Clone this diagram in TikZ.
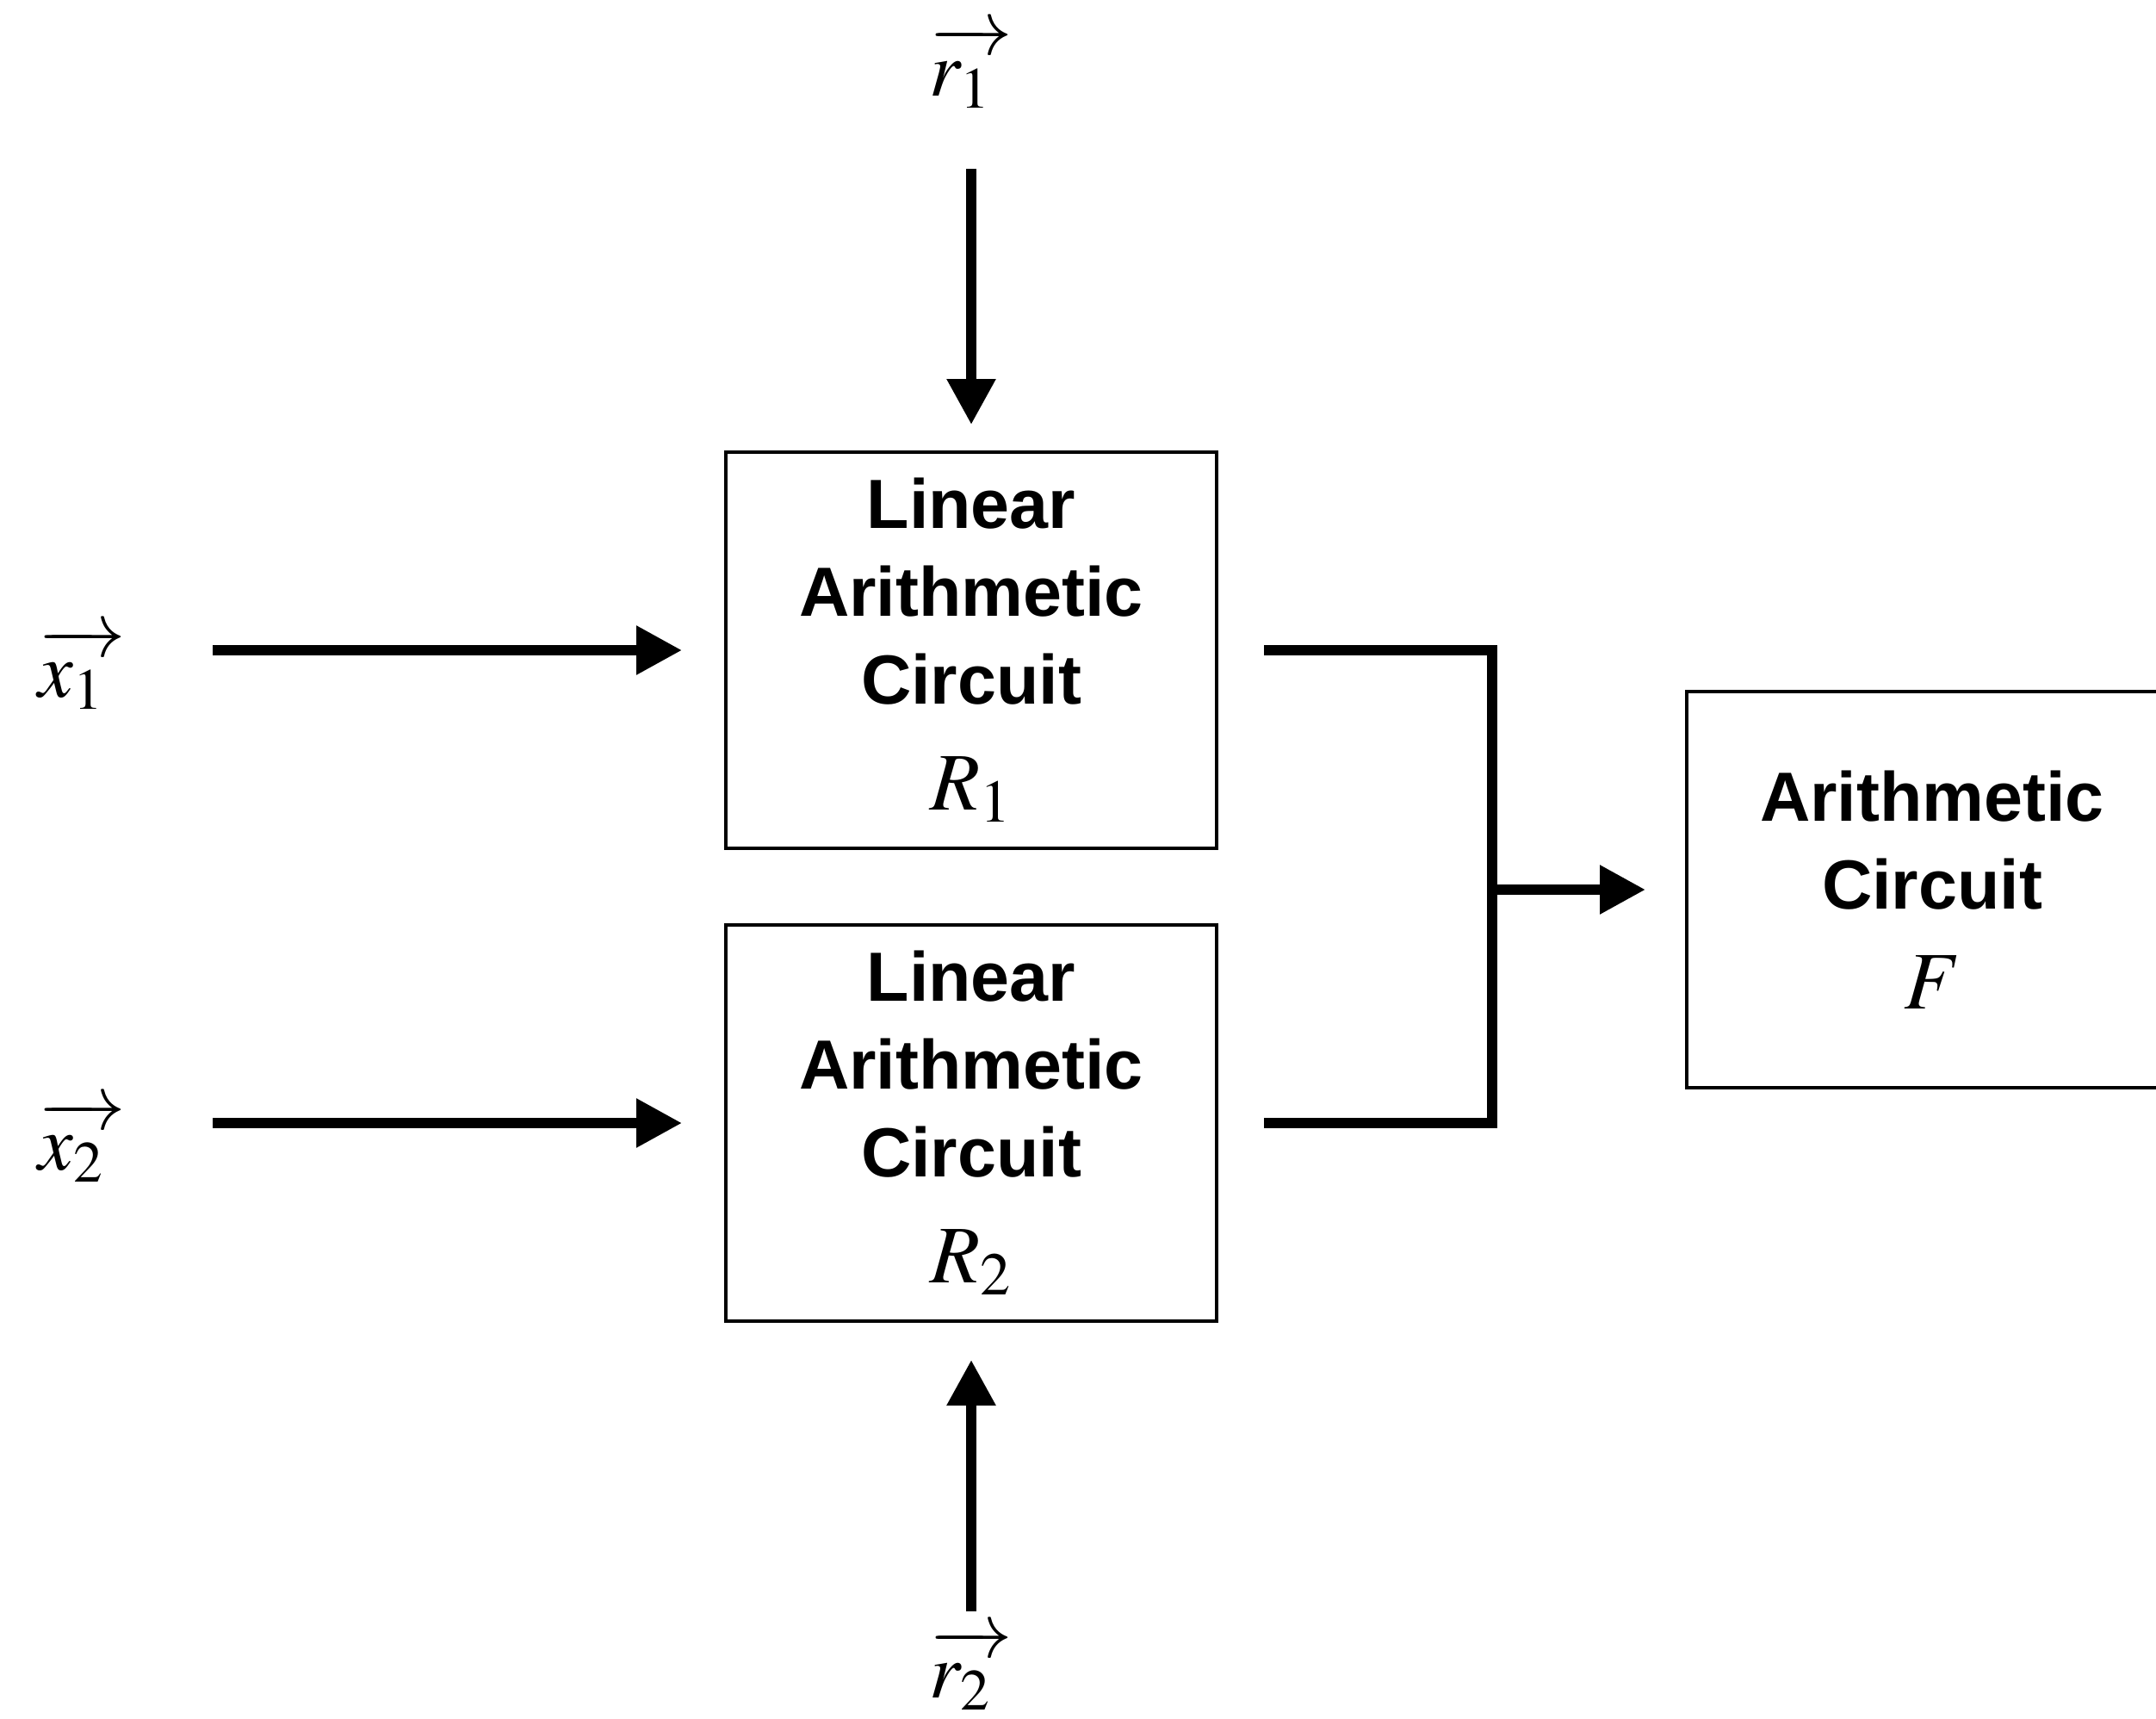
\documentclass[tikz,border=0pt]{standalone}
\usepackage{mathptmx}
\usepackage[no-math]{fontspec}
\setsansfont{Liberation Sans}
\usetikzlibrary{arrows.meta,positioning}

\newcommand{\bigmath}[1]{{\fontsize{27}{29}\selectfont$#1$}}
\newcommand{\invec}[2]{$\overrightarrow{\rule{0pt}{0.56em}#1_{#2}\mkern5mu}$}

\begin{document}
\begin{tikzpicture}[
  circuit/.style={draw,line width=0.04cm,minimum width=5.7cm,minimum height=4.6cm,
    align=center,inner sep=0pt,font=\sffamily\bfseries\fontsize{23}{29}\selectfont},
  vec/.style={inner sep=0pt,font=\fontsize{26}{28}\selectfont},
  flow/.style={line width=0.12cm,-{Triangle[length=5.3mm,width=5.4mm]}},
  bus/.style={line width=0.12cm,line join=miter},
  ]
  \useasboundingbox (0,0) rectangle (25.04,-19.95);
  %Boxes
  \node[circuit](R1) at (11.28,-7.55){Linear\\Arithmetic\\Circuit\\[6pt]\bigmath{R_1}};
  \node[circuit](R2)[below=0.85cm of R1]{Linear\\Arithmetic\\Circuit\\[6pt]\bigmath{R_2}};
  \node[circuit](F) at (22.44,-10.33){Arithmetic\\Circuit\\[4pt]\bigmath{F}};
  %Inputs
  \node[vec,yshift=-2.1mm](x1)[left=6.94cm of R1]{\invec{x}{1}};
  \node[vec,yshift=-2.1mm](x2)[left=6.94cm of R2]{\invec{x}{2}};
  \node[vec](r1)[above=3.97cm of R1]{\invec{r}{1}};
  \node[vec](r2)[below=3.54cm of R2]{\invec{r}{2}};
  \coordinate (join) at (17.33,-10.33);
  %Lines
  \draw[flow,shorten <=1.00cm,shorten >=0.49cm] (x1.east |- R1) -- (R1);
  \draw[flow,shorten <=1.00cm,shorten >=0.49cm] (x2.east |- R2) -- (R2);
  \draw[flow,shorten <=0.70cm,shorten >=0.30cm] (r1) -- (R1);
  \draw[flow,shorten <=0.19cm,shorten >=0.43cm] (r2) -- (R2);
  \draw[bus] ([xshift=5.3mm]R1.east) -| (join) |- ([xshift=5.3mm]R2.east);
  \draw[flow,shorten >=0.46cm] (join) -- (F);
\end{tikzpicture}
\end{document}
